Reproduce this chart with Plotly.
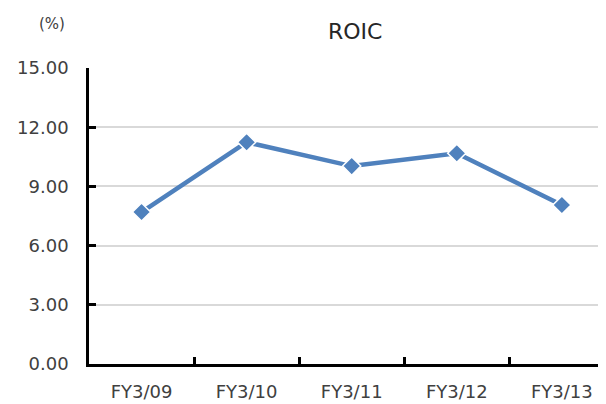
import plotly.graph_objects as go

categories = ["FY3/09", "FY3/10", "FY3/11", "FY3/12", "FY3/13"]
roic = [7.70, 11.24, 10.03, 10.68, 8.06]
y_ticks = [0, 3, 6, 9, 12, 15]
y_tick_labels = ["0.00", "3.00", "6.00", "9.00", "12.00", "15.00"]

# page body has an 8px offset; compensate so the plot lands where the reference has it
OFF = 8
W, H = 606 - OFF, 404 - OFF
L, T, B, R = 89 - OFF, 68 - OFF, 40, 0

fig = go.Figure()
fig.add_trace(go.Scatter(
    x=categories, y=roic, mode="lines+markers",
    line=dict(color="#4f81bd", width=4.5),
    marker=dict(symbol="diamond", size=14, color="#4f81bd",
                line=dict(color="white", width=1.5)),
    cliponaxis=False,
))

font_family = "DejaVu Sans"
fig.update_layout(
    width=W, height=H,
    margin=dict(l=L, r=R, t=T, b=B),
    paper_bgcolor="white", plot_bgcolor="white",
    showlegend=False,
    font=dict(family=font_family, color="#404040"),
    xaxis=dict(
        type="category", range=[-0.5, 4.42],
        showline=True, linecolor="black", linewidth=2.5,
        ticks="inside", tickson="boundaries", ticklen=7, tickwidth=2.5, tickcolor="black",
        tickfont=dict(size=18, color="#404040"),
        showgrid=False, ticklabelstandoff=10, automargin=False,
    ),
    yaxis=dict(
        range=[0, 15], tickvals=y_ticks, ticktext=y_tick_labels,
        showline=True, linecolor="black", linewidth=2.5,
        ticks="inside", ticklen=7, tickwidth=2.5, tickcolor="black",
        tickfont=dict(size=18, color="#404040"),
        showgrid=True, gridcolor="#d9d9d9", gridwidth=2,
        zeroline=False, ticklabelstandoff=14, automargin=False,
    ),
)

pw = W - L - R
ph = H - T - B
def px(x):
    return (x - 89) / pw
def py(y):
    return (364 - y) / ph

fig.add_annotation(text="ROIC", x=px(355), y=py(32), xref="paper", yref="paper",
                   xanchor="center", yanchor="middle", showarrow=False,
                   font=dict(size=22, color="#262626"))
fig.add_annotation(text="(%)", x=px(52), y=py(24), xref="paper", yref="paper",
                   xanchor="center", yanchor="middle", showarrow=False,
                   font=dict(size=15, color="#404040"))

fig.write_html("out.html")
